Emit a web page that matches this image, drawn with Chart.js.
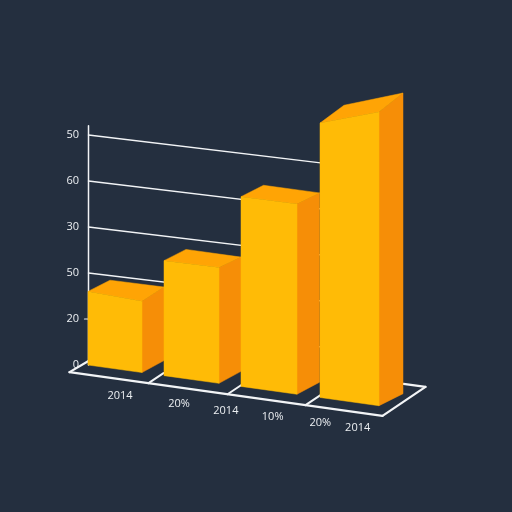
<!DOCTYPE html>
<html>
<head>
<meta charset="utf-8">
<style>
html,body{margin:0;padding:0;background:#242f3f;}
canvas{display:block;}
</style>
<script src="https://cdn.jsdelivr.net/npm/chart.js@4"></script>
</head>
<body>
<canvas id="c" width="512" height="512"></canvas>
<script>
// ---- data ----
const barCategories = ['2014', '20%', '10%', '20%'];
const frontLeftValues = [32, 50, 82.5, 119.3];
const frontRightValues = [31, 50.4, 82.7, 127.7];
const backLeftValues = [33, 51, 83.6, 123.3];
const backRightValues = [33.3, 51, 83.7, 132.2];
const yTickLabels = ['0', '20', '50', '30', '60', '50'];
const xTickLabels = ['2014', '20%', '2014', '10%', '20%', '2014'];
const yTickValues = [0, 20, 40, 60, 80, 100];

// ---- layout of the fake perspective (not data) ----
const SLOPE = 0.14, GRID_SLOPE = 0.12;
const DEPTH_Y = -12;
const barNudge = [-4, -5.5, -6, -3.5];
const barWidth = [54, 55, 56, 59];
const barDepth = [22, 22, 22.5, 24];
const xLabelSlots = [0.013, 0.77, 1.37, 1.97, 2.58, 3.06];
const COLORS = {front:'#ffbb06', top:'#ffa405', side:'#f68e07', line:'#f2f4f6', text:'#eceff2'};
const FONT = '11px "Open Sans"';

function axisX(chart){ return chart.getDatasetMeta(0).data[0].x + barNudge[0] - barWidth[0]/2; }
function py(chart, v, x, slope){ return chart.scales.y.getPixelForValue(v) + (slope===undefined?SLOPE:slope)*(x-axisX(chart)); }
function poly(ctx, pts, color){
  ctx.fillStyle=color; ctx.beginPath();
  pts.forEach((p,i)=> i?ctx.lineTo(p[0],p[1]):ctx.moveTo(p[0],p[1]));
  ctx.closePath(); ctx.fill();
  ctx.strokeStyle=color; ctx.lineWidth=0.5; ctx.stroke();
}
function seg(ctx,a,b,w){
  ctx.strokeStyle=COLORS.line; ctx.lineWidth=w; ctx.lineCap='round';
  ctx.beginPath(); ctx.moveTo(a[0],a[1]); ctx.lineTo(b[0],b[1]); ctx.stroke();
}

const perspective = {
  id:'perspective',
  beforeDatasetsDraw(chart){
    const ctx=chart.ctx, y=chart.scales.y, x0=axisX(chart)+0.5;
    const meta=chart.getDatasetMeta(0).data;
    const gridEnd=meta[3].x-20;
    ctx.save();
    // value lines
    yTickValues.slice(1).forEach(v=>{
      seg(ctx,[x0,py(chart,v,x0,GRID_SLOPE)],[gridEnd,py(chart,v,gridEnd,GRID_SLOPE)],1.4);
    });
    // vertical axis
    seg(ctx,[x0,y.getPixelForValue(104)],[x0,y.getPixelForValue(0)],1.5);
    seg(ctx,[x0-4,y.getPixelForValue(20)],[x0-1,y.getPixelForValue(20)],1.2);
    // floor outline
    const fy=(x,off)=>py(chart,0,x,SLOPE)+off;
    const fx0=x0-19, fx1=x0+294;
    const a=[fx0,fy(fx0,9.7)], b=[fx1,fy(fx1,9.7)];
    seg(ctx,a,b,2.2);
    seg(ctx,a,[x0,fy(x0,-4)],2.2);
    seg(ctx,b,[fx1+43,b[1]-29],2.2);
    seg(ctx,[fx1+43,b[1]-29],[fx1+21,b[1]-32],2.2);
    [60,139,217].forEach(dx=>{
      const sx=x0+dx; seg(ctx,[sx,fy(sx,9.7)],[sx+15,fy(sx,9.7)-10],2);
    });
    ctx.restore();
  },
  afterDatasetsDraw(chart){
    const ctx=chart.ctx, meta=chart.getDatasetMeta(0).data;
    ctx.save();
    meta.forEach((el,i)=>{
      const L=el.x+barNudge[i]-barWidth[i]/2, R=L+barWidth[i], d=barDepth[i];
      const fl=py(chart,frontLeftValues[i],L), fr=py(chart,frontRightValues[i],R);
      const bl=py(chart,backLeftValues[i],L+d)+DEPTH_Y, br=py(chart,backRightValues[i],R+d)+DEPTH_Y;
      const b0=py(chart,0,L), b1=py(chart,0,R);
      poly(ctx,[[R,b1],[R+d,b1+DEPTH_Y],[R+d,br],[R,fr]],COLORS.side);
      poly(ctx,[[L,fl],[L+d,bl],[R+d,br],[R,fr]],COLORS.top);
      poly(ctx,[[L,b0],[R,b1],[R,fr],[L,fl]],COLORS.front);
    });
    // category labels follow the floor edge
    const xs=chart.scales.x;
    ctx.font=FONT; ctx.fillStyle=COLORS.text; ctx.textAlign='center'; ctx.textBaseline='middle';
    xTickLabels.forEach((t,i)=>{
      const x=xs.getPixelForValue(0)+(xs.getPixelForValue(1)-xs.getPixelForValue(0))*xLabelSlots[i];
      ctx.fillText(t,x,py(chart,0,x,0.134)+27);
    });
    ctx.restore();
  }
};

new Chart(document.getElementById('c'),{
  type:'bar',
  data:{labels:barCategories,datasets:[{data:frontLeftValues,backgroundColor:'rgba(0,0,0,0)',borderWidth:0,barThickness:55}]},
  options:{
    responsive:false, animation:false, devicePixelRatio:1,
    layout:{padding:{left:0,top:43,bottom:147,right:120}},
    plugins:{legend:{display:false},tooltip:{enabled:false},title:{display:false}},
    scales:{
      x:{grid:{display:false,drawTicks:false},border:{display:false},ticks:{display:false},afterFit(s){s.height=0;}},
      y:{min:0,max:140,
         afterFit(s){s.width=80;},
         grid:{display:false,drawTicks:false},border:{display:false},
         ticks:{stepSize:20,padding:1,color:COLORS.text,font:{family:'"Open Sans"',size:11},
           callback(v){const i=yTickValues.indexOf(v);return i<0?'':yTickLabels[i];}}}
    }
  },
  plugins:[perspective]
});
</script>
</body>
</html>
